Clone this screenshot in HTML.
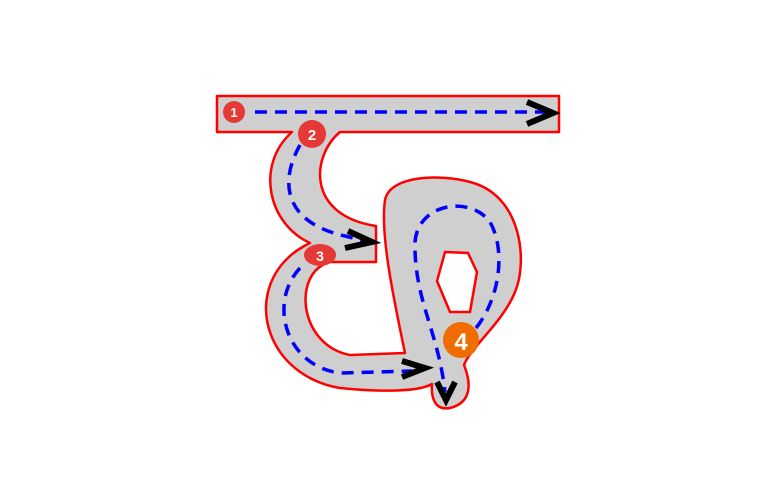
<!DOCTYPE html>
<html><head><meta charset="utf-8"><style>
html,body{margin:0;padding:0;background:#fff;width:759px;height:489px;overflow:hidden}
text{font-family:"Liberation Sans",sans-serif;font-weight:bold}
</style></head><body>
<svg width="759" height="489" viewBox="0 0 759 489">
<path fill="#cfcfcf" stroke="#f00" stroke-width="2.5" stroke-linejoin="round"
d="M217,96 L559,96 L559,132 L340,132 C312,155 305,215 376,226 L376,262 L330,262 C292,272 298,345 350,355 L405,353 C394,300 380,235 385,200 C390,175 440,174 470,182 C522,195 528,262 515,292 C503,322 470,348 464,365 C470,380 474,402 450,408 C434,411 431,396 432,384 C418,392 380,392 340,388 C268,376 243,298 290,256 C299,248 310,243 310,243 C268,224 255,165 292,132 L217,132 Z"/>
<path fill="#fff" stroke="#f00" stroke-width="2.5" d="M445,252 L468,253 L477,272 L470,312 L450,312 L437,281 Z"/>
<g fill="none" stroke="#00f" stroke-width="3.5" stroke-dasharray="12,8">
<path d="M255,112 L545,112"/>
<path d="M300,145 C280,180 282,222 345,236 L368,242"/>
<path d="M300,268 C268,302 285,366 340,373 L412,371"/>
<path d="M476,328 C500,298 506,250 490,222 C470,195 418,203 415,242 C414,300 438,330 445,392"/>
</g>
<g fill="none" stroke="#000" stroke-width="6" stroke-linejoin="miter">
<path d="M527,102 L553,113 L527,124"/>
<path d="M348,231 L372,242 L345,248"/>
<path d="M402,361 L425,368 L402,377"/>
<path d="M437,382 L446,400 L455,382"/>
</g>
<g><circle cx="234" cy="112" r="11" fill="#e53935"/><text x="234" y="117" font-size="13" fill="#fff" text-anchor="middle">1</text></g>
<g><circle cx="312" cy="134" r="14" fill="#e53935"/><text x="312" y="140" font-size="15" fill="#fff" text-anchor="middle">2</text></g>
<g><ellipse cx="320" cy="255" rx="16" ry="11" fill="#e53935"/><text x="320" y="261" font-size="14" fill="#fff" text-anchor="middle">3</text></g>
<g><circle cx="461" cy="340" r="18" fill="#ef6c00"/><text x="461" y="350" font-size="24" fill="#fff" text-anchor="middle">4</text></g>
</svg>
</body></html>
